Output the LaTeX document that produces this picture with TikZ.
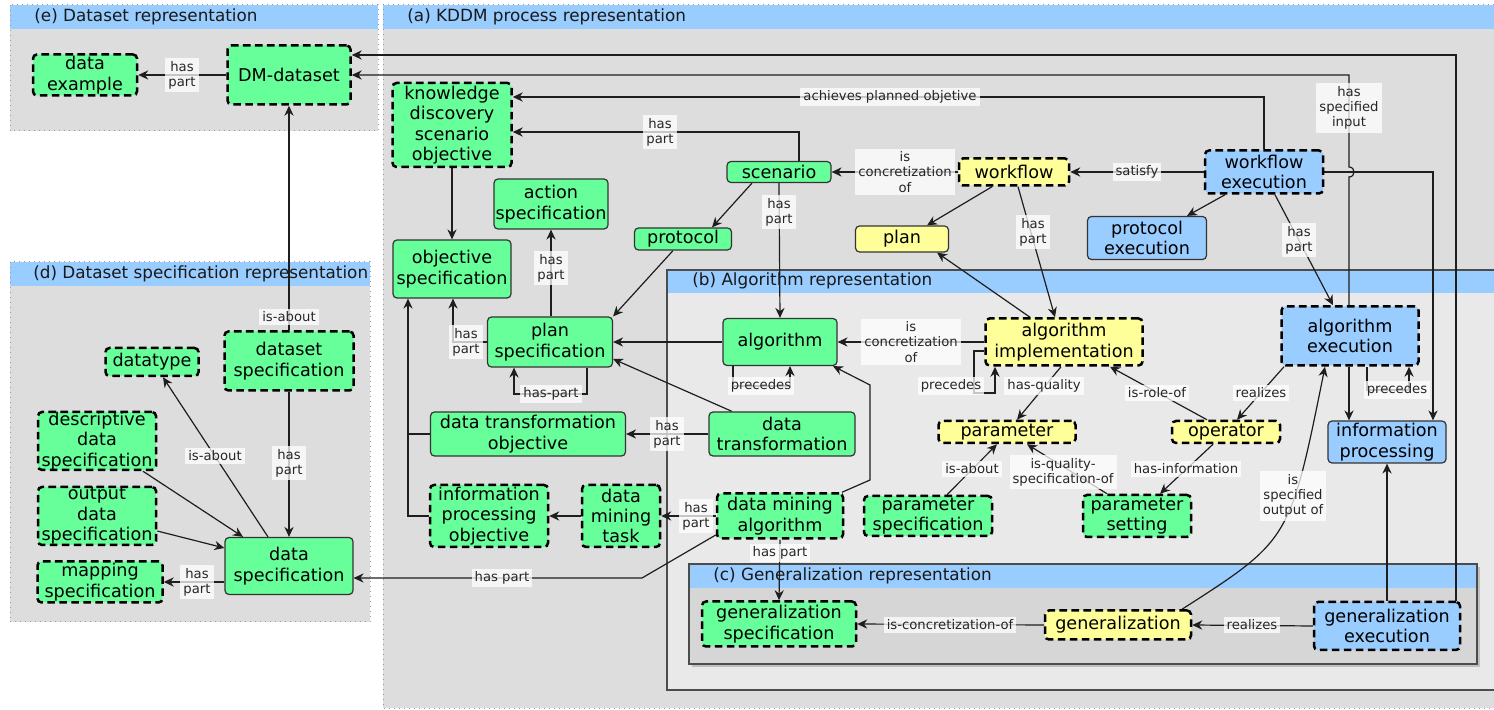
\documentclass[tikz,border=0pt]{standalone}
\usepackage{fontspec}
\setmainfont{DejaVu Sans}
\usetikzlibrary{arrows.meta,calc}
\pgfdeclarelayer{bg}
\pgfdeclarelayer{edges}
\pgfsetlayers{bg,edges,main}
\definecolor{ngreen}{RGB}{102,255,153}
\definecolor{nblue}{RGB}{153,204,255}
\definecolor{nyellow}{RGB}{255,255,153}
\definecolor{pgray}{RGB}{221,221,221}
\definecolor{bgray}{RGB}{233,233,233}
\definecolor{cgray}{RGB}{214,214,214}
\definecolor{hblue}{RGB}{153,204,255}
\definecolor{ln}{RGB}{30,30,30}
\begin{document}
\begin{tikzpicture}[x=0.5pt,y=-0.5pt,
  box/.style={rounded corners=2pt, inner sep=0pt, align=center, font=\fontsize{8.8}{10.2}\selectfont, text=black},
  sld/.style={draw=black!80, line width=0.6pt},
  dsh/.style={draw=black, line width=1.25pt, dash pattern=on 3.8pt off 2.2pt},
  gn/.style={box, fill=ngreen},
  bl/.style={box, fill=nblue},
  yl/.style={box, fill=nyellow},
  sz/.style 2 args={minimum width=#1, minimum height=#2},
  lab/.style={font=\fontsize{6.6}{7.6}\selectfont, fill=white, fill opacity=0.75, text opacity=1, inner sep=1.5pt, align=center, text=black!85},
  arr/.style={draw=ln, line width=0.6pt, -{Stealth[length=5pt,width=4.6pt]}},
  con/.style={draw=ln, line width=0.6pt},
  ptitle/.style={anchor=west, inner sep=0pt, font=\fontsize{8.4}{10}\selectfont, text=black!90},
]
\useasboundingbox (0,0) rectangle (1494,710);
\begin{pgfonlayer}{bg}
% (e)
\fill[pgray] (10,5) rectangle (378,131);
\fill[hblue] (10,5) rectangle (378,29);
\draw[black!40, dotted, line width=0.5pt] (10,5) rectangle (378,131);
\node[ptitle] (te) at (34,17) {(e) Dataset representation};
% (d)
\fill[pgray] (10,262) rectangle (370,622);
\fill[hblue] (10,262) rectangle (370,286);
\draw[black!40, dotted, line width=0.5pt] (10,262) rectangle (370,622);
\node[ptitle] (td) at (33,274) {(d) Dataset specification representation};
% (a)
\fill[pgray] (383,5) rectangle (1494,708);
\fill[hblue] (383,5) rectangle (1494,29);
\draw[black!40, dotted, line width=0.5pt] (1494,5) -- (383,5) -- (383,708) -- (1494,708);
\node[ptitle] (ta) at (407,17) {(a) KDDM process representation};
% (b)
\fill[bgray] (667,270) rectangle (1494,690);
\fill[hblue] (667,270) rectangle (1494,293);
\draw[black!70, line width=0.7pt] (1494,270) -- (667,270) -- (667,690) -- (1494,690);
\node[ptitle] (tb) at (692,281) {(b) Algorithm representation};
% (c)
\fill[black!25] (692,567) rectangle (1480,667);
\fill[cgray] (689,564) rectangle (1477,664);
\fill[hblue] (689,564) rectangle (1477,588);
\draw[black!70, line width=0.7pt] (689,564) rectangle (1477,664);
\node[ptitle] (tc) at (713,576) {(c) Generalization representation};
\end{pgfonlayer}

% ---- nodes ----
\node[gn,dsh,sz={52pt}{20.5pt}] (dataex) at (85,75) {data\\example};
\node[gn,dsh,sz={61.5pt}{29.5pt}] (dmds) at (289,75) {DM-dataset};
\node[gn,dsh,sz={46.5pt}{14pt}] (datatype) at (152,362) {datatype};
\node[gn,dsh,sz={64.5pt}{29.5pt}] (dsspec) at (289,361) {dataset\\specification};
\node[gn,dsh,sz={59pt}{29pt}] (descr) at (97,441) {descriptive\\data\\specification};
\node[gn,dsh,sz={59pt}{29pt}] (outdata) at (97,516) {output\\data\\specification};
\node[gn,dsh,sz={62.5pt}{20.5pt}] (mapping) at (100,582) {mapping\\specification};
\node[gn,sld,sz={64pt}{28.5pt}] (dataspec) at (289,566) {data\\specification};

\node[gn,dsh,sz={59.5pt}{42pt}] (kdso) at (452,125) {knowledge\\discovery\\scenario\\objective};
\node[gn,sld,sz={57pt}{25pt}] (actspec) at (551,204) {action\\specification};
\node[gn,sld,sz={48.5pt}{11pt}] (protocol) at (683,239) {protocol};
\node[gn,sld,sz={52pt}{10.5pt}] (scenario) at (779,172) {scenario};
\node[yl,dsh,sz={55pt}{13.5pt}] (workflow) at (1014,172) {workflow};
\node[yl,sld,sz={46.5pt}{13pt}] (plan) at (902,239) {plan};
\node[bl,dsh,sz={59pt}{21.5pt}] (wfexec) at (1264,172) {workflow\\execution};
\node[bl,sld,sz={59.5pt}{21.5pt}] (protexec) at (1147,238) {protocol\\execution};
\node[gn,sld,sz={59pt}{29pt}] (objspec) at (452,269) {objective\\specification};
\node[gn,sld,sz={62.5pt}{25pt}] (planspec) at (550,342) {plan\\specification};
\node[gn,sld,sz={97.5pt}{22pt}] (dto) at (528,434) {data transformation\\objective};
\node[gn,dsh,sz={59pt}{31pt}] (ipo) at (489,516) {information\\processing\\objective};
\node[gn,dsh,sz={39pt}{31pt}] (dmt) at (621,516) {data\\mining\\task};

\node[gn,sld,sz={57pt}{23.5pt}] (algo) at (780,342) {algorithm};
\node[gn,sld,sz={73pt}{22pt}] (dt) at (782,434) {data\\transformation};
\node[gn,dsh,sz={63pt}{22.5pt}] (dma) at (780,516) {data mining\\algorithm};
\node[yl,dsh,sz={78.5pt}{23.5pt}] (aimpl) at (1064,342) {algorithm\\implementation};
\node[yl,dsh,sz={68.5pt}{11pt}] (param) at (1007,432) {parameter};
\node[yl,dsh,sz={54pt}{11pt}] (operator) at (1226,432) {operator};
\node[gn,dsh,sz={64pt}{20pt}] (pspec) at (928,516) {parameter\\specification};
\node[gn,dsh,sz={54pt}{21pt}] (psetting) at (1137,516) {parameter\\setting};
\node[bl,dsh,sz={68.5pt}{29.5pt}] (aexec) at (1350,336) {algorithm\\execution};
\node[bl,sld,sz={59pt}{21pt}] (infoproc) at (1387,442) {information\\processing};

\node[gn,dsh,sz={77pt}{22.5pt}] (genspec) at (779,624) {generalization\\specification};
\node[yl,dsh,sz={73pt}{14.5pt}] (gen) at (1118,625) {generalization};
\node[bl,dsh,sz={73pt}{24pt}] (genexec) at (1387,626) {generalization\\execution};

% ---- edges ----
\begin{pgfonlayer}{edges}
\draw[arr] (dmds.west) -- (dataex.east);
\draw[arr] (dsspec.north) -- (dmds.south);
\draw[arr] (dsspec.south) -- (dataspec.north);
\draw[arr] (dataspec.north -| 268,0) -- (datatype.south -| 163,0);
\draw[arr] (descr.south -| 143,0) -- (dataspec.north -| 243,0);
\draw[arr] (outdata.east |- 0,531) -- (dataspec.west |- 0,548);
\draw[arr] (dataspec.west |- 0,582) -- (mapping.east |- 0,582);

\coordinate (c55) at (1456,55);
\draw[arr] (genexec.north -| c55) -- (c55) -- (dmds.east |- c55);
\coordinate (c75) at (1349,75);
\draw[arr] (aexec.north -| c75) -- (1349,177) .. controls (1355.7,177) and (1355.7,167) .. (1349,167) -- (c75) -- (dmds.east |- c75);
\coordinate (c97) at (1264,97);
\draw[arr] (wfexec.north) -- (c97) -- (kdso.east |- c97);
\coordinate (c132) at (799,132);
\draw[arr] (scenario.north -| c132) -- (c132) -- (kdso.east |- c132);
\draw[arr] (workflow.west) -- (scenario.east);
\draw[arr] (wfexec.west) -- (workflow.east);
\draw[arr] (wfexec.south -| 1225,0) -- (protexec.north -| 1187,0);
\draw[arr] (wfexec.south -| 1275,0) -- (aexec.north -| 1333,0);
\coordinate (c1433) at (1433,172);
\draw[arr] (wfexec.east) -- (c1433) -- (infoproc.north -| c1433);
\draw[arr] (workflow.south -| 992,0) -- (plan.north -| 927,0);
\draw[arr] (workflow.south -| 1018,0) -- (aimpl.north -| 1055,0);
\draw[arr] (aimpl.north -| 1030,0) -- (plan.south -| 937,0);
\draw[arr] (scenario.south -| 752,0) -- (protocol.north -| 712,0);
\draw[arr] (scenario.south) -- (algo.north);
\draw[arr] (protocol.south -| 673,0) -- (planspec.north east);
\draw[arr] (planspec.north -| 551,0) -- (actspec.south);
\coordinate (c453) at (453,342);
\draw[arr] (planspec.west) -- (c453) -- (objspec.south -| c453);
\draw[arr] (planspec.south -| 587,0) -- (587,394) -- (514,394) -- (planspec.south -| 514,0);
\draw[arr] (kdso.south) -- (objspec.north);
\coordinate (c408) at (408,434);
\draw[arr] (ipo.west) -- (ipo.west -| c408) -- (objspec.south -| c408);
\draw[con] (dto.west) -- (c408);
\draw[arr] (algo.west) -- (planspec.east);
\draw[arr] (dt.north -| 732,0) -- (planspec.east |- 0,359);
\draw[arr] (dt.west) -- (dto.east);
\draw[arr] (dma.west) -- (dmt.east);
\draw[arr] (dmt.west) -- (ipo.east);
\draw[arr] (dma.north -| 842,0) -- (870,480) -- (870,385) -- (algo.south -| 833,0);
\draw[arr] (algo.south -| 733,0) -- (733,386) -- (790,386) -- (algo.south -| 790,0);
\draw[arr] (dma.south) -- (genspec.north);
\draw[arr] (dma.west |- 0,535) -- (642,578) -- (dataspec.east |- 0,578);
\draw[arr] (aimpl.west) -- (algo.east);
\draw[arr] (aimpl.west |- 0,351) -- (974,351) -- (974,393) -- (995,393) -- (aimpl.south -| 995,0);
\draw[arr] (aimpl.south -| 1061,0) -- (param.north -| 1017,0);
\draw[arr] (operator.north -| 1207,0) -- (aimpl.south -| 1110,0);
\draw[arr] (aexec.south -| 1284,0) -- (operator.north -| 1237,0);
\draw[arr] (operator.south -| 1213,0) -- (psetting.north -| 1160,0);
\draw[arr] (pspec.north -| 947,0) -- (param.south -| 997,0);
\draw[arr] (psetting.north -| 1107,0) -- (param.south -| 1027,0);
\draw[arr] (aexec.south -| 1349,0) -- (infoproc.north -| 1349,0);
\draw[arr] (aexec.south -| 1367,0) -- (1367,390) -- (1409,390) -- (aexec.south -| 1409,0);
\draw[arr] (gen.north -| 1182,0) .. controls (1290,540) .. (aexec.south -| 1325,0);
\draw[arr] (genexec.west) -- (gen.east);
\draw[arr] (gen.west) -- (genspec.east);
\draw[arr] (genexec.north -| 1387,0) -- (infoproc.south);
\end{pgfonlayer}

% ---- labels ----
\node[lab] (l1) at (182,75) {has\\part};
\node[lab] (l2) at (289,317) {is-about};
\node[lab] (l3) at (289,463) {has\\part};
\node[lab] (l4) at (215,456) {is-about};
\node[lab] (l5) at (197,582) {has\\part};
\node[lab] (l6) at (890,97) {achieves planned objetive};
\node[lab] (l7) at (660,132) {has\\part};
\node[lab] (l8) at (905,172) {is\\concretization\\of};
\node[lab] (l9) at (1137,172) {satisfy};
\node[lab] (l10) at (1349,108) {has\\specified\\input};
\node[lab] (l11) at (1299,240) {has\\part};
\node[lab] (l12) at (1033,232) {has\\part};
\node[lab] (l13) at (779,212) {has\\part};
\node[lab] (l14) at (551,268) {has\\part};
\node[lab] (l15) at (466,342) {has\\part};
\node[lab] (l16) at (551,394) {has-part};
\node[lab] (l17) at (667,434) {has\\part};
\node[lab] (l18) at (696,516) {has\\part};
\node[lab] (l19) at (761,386) {precedes};
\node[lab] (l20) at (780,553) {has part};
\node[lab] (l21) at (502,578) {has part};
\node[lab] (l22) at (911,342) {is\\concretization\\of};
\node[lab] (l23) at (951,386) {precedes};
\node[lab] (l24) at (1044,386) {has-quality};
\node[lab] (l25) at (1157,393) {is-role-of};
\node[lab] (l26) at (1261,393) {realizes};
\node[lab] (l27) at (1186,469) {has-information};
\node[lab] (l28) at (972,469) {is-about};
\node[lab] (l29) at (1063,472) {is-quality-\\specification-of};
\node[lab] (l30) at (1397,390) {precedes};
\node[lab] (l31) at (1293,496) {is\\specified\\output of};
\node[lab] (l32) at (1252,625) {realizes};
\node[lab] (l33) at (950,625) {is-concretization-of};
\end{tikzpicture}
\end{document}
